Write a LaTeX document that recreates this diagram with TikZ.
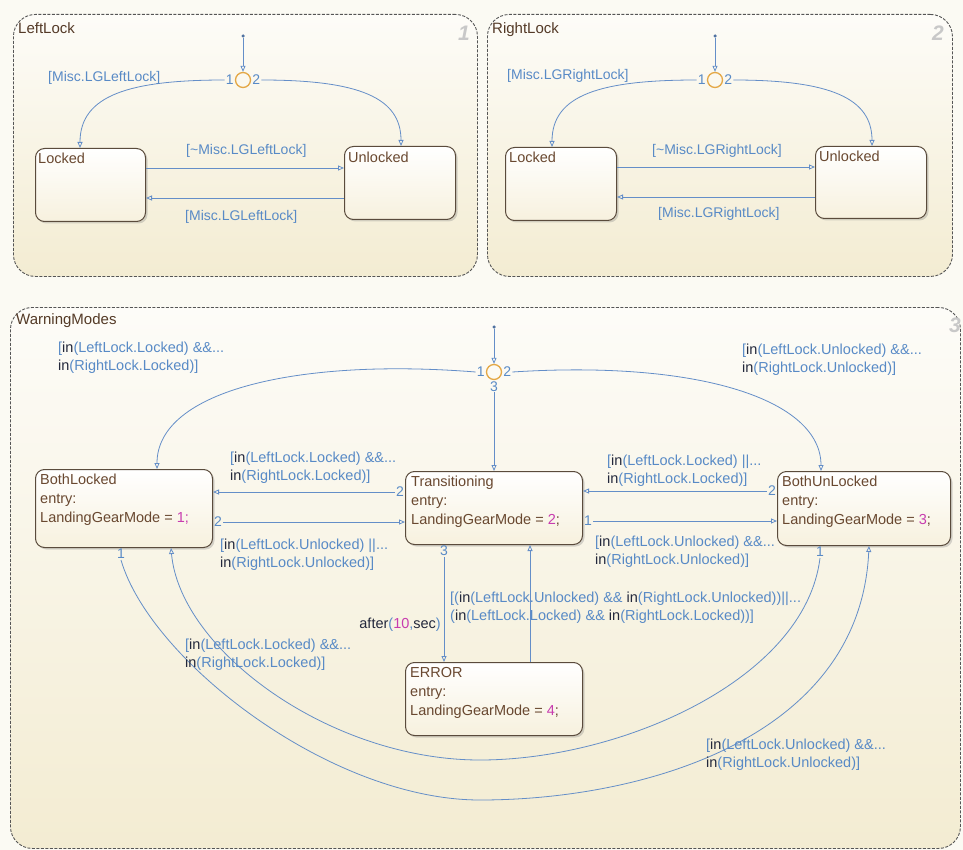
\documentclass[tikz,border=0pt]{standalone}
\usepackage{fontspec}
\setmainfont{Liberation Sans}
\usetikzlibrary{arrows.meta,shadows}
\definecolor{lblue}{RGB}{100,142,200}
\definecolor{tblue}{RGB}{88,138,198}
\definecolor{kdark}{RGB}{35,40,60}
\definecolor{kmag}{RGB}{200,60,175}
\definecolor{sbrown}{RGB}{105,72,48}
\definecolor{sborder}{RGB}{90,75,60}
\definecolor{jorange}{RGB}{228,168,70}
\definecolor{cborder}{RGB}{85,85,85}
\definecolor{bgc}{RGB}{251,250,243}
\definecolor{ctop}{RGB}{253,252,248}
\definecolor{cbot}{RGB}{243,236,210}
\definecolor{sbot}{RGB}{247,241,222}
\definecolor{cnum}{RGB}{200,200,200}
\newcommand{\kin}{{\color{kdark}in}}
\newcommand{\kmg}[1]{{\color{kmag}#1}}
\begin{document}
\begin{tikzpicture}[x=1pt,y=-1pt,
  chartbox/.style={draw=cborder, dash pattern=on 3pt off 1.5pt, line width=0.9pt,
    rounded corners=22pt, top color=ctop, bottom color=cbot, inner sep=0pt, anchor=north west},
  statebox/.style={draw=sborder, line width=1pt, rounded corners=9pt, top color=white,
    bottom color=sbot, inner sep=0pt, anchor=north west,
    drop shadow={shadow xshift=2pt, shadow yshift=-2pt, opacity=0.3}},
  stxt/.style={font=\fontsize{14.5}{19}\selectfont, text=sbrown, align=left, inner sep=0pt, anchor=north west},
  ctitle/.style={font=\fontsize{15}{16}\selectfont, text=sbrown!80!black, inner sep=0pt, anchor=north west},
  cnumber/.style={font=\fontsize{21}{21}\selectfont\bfseries\itshape, text=cnum, inner sep=0pt, anchor=north east},
  lbl/.style={font=\fontsize{14.5}{18}\selectfont, text=tblue, align=left, inner sep=0pt, anchor=north west},
  mlbl/.style={lbl, font=\fontsize{14}{18}\selectfont},
  num/.style={font=\fontsize{14}{16}\selectfont, text=tblue, inner sep=1pt},
  trans/.style={draw=lblue, line width=0.8pt, -{Triangle[open,length=6pt,width=5pt]}},
  junc/.style={circle, draw=jorange, line width=1.3pt, minimum size=15pt, inner sep=0pt},
  ddot/.style={circle, fill=lblue!80!black, minimum size=3.5pt, inner sep=0pt}
]
\fill[bgc] (0,0) rectangle (963,850);
\useasboundingbox (0,0) rectangle (963,850);

% ---------------- charts
\node[chartbox, minimum width=464pt, minimum height=262pt] (leftlock) at (13,14) {};
\node[chartbox, minimum width=465pt, minimum height=262pt] (rightlock) at (487,14) {};
\node[chartbox, minimum width=950pt, minimum height=541pt] (warn) at (10,307) {};
\node[ctitle] (tll) at (18,22) {LeftLock};
\node[ctitle] (trl) at (492,22) {RightLock};
\node[ctitle] (twm) at (16,313) {WarningModes};
\node[cnumber] (n1) at (470,26) {1};
\node[cnumber] (n2) at (944,26) {2};
\node[cnumber] (n3) at (961,318) {3};

% ---------------- LeftLock
\node[statebox, minimum width=110pt, minimum height=73pt] (llk) at (35,148) {};
\node[statebox, minimum width=111pt, minimum height=73pt] (luk) at (344,146) {};
\node[stxt] (llkt) at (38,153) {Locked};
\node[stxt] (lukt) at (348,152) {Unlocked};
\node[ddot] (dL) at (243,36) {};
\node[junc] (jL) at (243,80) {};
\node[num, anchor=east] (jL1) at (jL.west) {1};
\node[num, anchor=west] (jL2) at (jL.east) {2};
\draw[trans] (dL) -- (jL.north);
\draw[trans] (jL1.west) .. controls (130,80) and (80,95) .. ([xshift=45pt]llk.north west);
\draw[trans] (jL2.east) .. controls (360,80) and (401,98) .. ([xshift=57pt]luk.north west);
\draw[trans] ([yshift=-20pt]llk.north east) -- ([yshift=-22pt]luk.north west);
\draw[trans] ([yshift=-52pt]luk.north west) -- ([yshift=-50pt]llk.north east);
\node[mlbl] (l1) at (48,71) {[Misc.LGLeftLock]};
\node[mlbl] (l2) at (186,144) {[\textasciitilde Misc.LGLeftLock]};
\node[mlbl] (l3) at (185,210) {[Misc.LGLeftLock]};

% ---------------- RightLock
\node[statebox, minimum width=111pt, minimum height=73pt] (rlk) at (505,147) {};
\node[statebox, minimum width=111pt, minimum height=72pt] (ruk) at (815,146) {};
\node[stxt] (rlkt) at (509,152) {Locked};
\node[stxt] (rukt) at (819,151) {Unlocked};
\node[ddot] (dR) at (715,36) {};
\node[junc] (jR) at (715,80) {};
\node[num, anchor=east] (jR1) at (jR.west) {1};
\node[num, anchor=west] (jR2) at (jR.east) {2};
\draw[trans] (dR) -- (jR.north);
\draw[trans] (jR1.west) .. controls (600,80) and (552,95) .. ([xshift=47pt]rlk.north west);
\draw[trans] (jR2.east) .. controls (830,80) and (872,98) .. ([xshift=57pt]ruk.north west);
\draw[trans] ([yshift=-20pt]rlk.north east) -- ([yshift=-21pt]ruk.north west);
\draw[trans] ([yshift=-51pt]ruk.north west) -- ([yshift=-50pt]rlk.north east);
\node[mlbl] (r1) at (507,69) {[Misc.LGRightLock]};
\node[mlbl] (r2) at (652,144) {[\textasciitilde Misc.LGRightLock]};
\node[mlbl] (r3) at (658,207) {[Misc.LGRightLock]};

% ---------------- WarningModes states
\node[statebox, minimum width=177pt, minimum height=78pt] (bl) at (35,469) {};
\node[statebox, minimum width=177pt, minimum height=73pt] (tr) at (405,471) {};
\node[statebox, minimum width=173pt, minimum height=74pt] (bu) at (777,471) {};
\node[statebox, minimum width=177pt, minimum height=73pt] (er) at (405,662) {};
\node[stxt] (blt) at (40,474) {BothLocked\\entry:\\LandingGearMode = \kmg{1;}};
\node[stxt] (trt) at (411,476) {Transitioning\\entry:\\LandingGearMode = \kmg{2};};
\node[stxt] (but) at (782,476) {BothUnLocked\\entry:\\LandingGearMode = \kmg{3};};
\node[stxt] (ert) at (410,667) {ERROR\\entry:\\LandingGearMode = \kmg{4};};

\node[ddot] (dW) at (494,327) {};
\node[junc] (jW) at (494,372) {};
\node[num, anchor=east] (jW1) at (jW.west) {1};
\node[num, anchor=west] (jW2) at (jW.east) {2};
\node[num, anchor=north] (jW3) at (jW.south) {3};
\draw[trans] (dW) -- (jW.north);
\draw[trans] (jW1.west) .. controls (300,358) and (157,390) .. ([xshift=122pt]bl.north west);
\draw[trans] (jW2.east) .. controls (700,360) and (821,400) .. ([xshift=44pt]bu.north west);
\draw[trans] (jW3.south) -- (jW3.south |- tr.north);

% horizontal transitions
\node[num, anchor=east] (t2) at ([yshift=-21pt]tr.north west) {2};
\draw[trans] (t2.west) -- (t2.west -| bl.east);
\node[num, anchor=west] (b2) at ([yshift=-53pt]bl.north east) {2};
\draw[trans] (b2.east) -- (b2.east -| tr.west);
\node[num, anchor=east] (u2) at ([yshift=-20pt]bu.north west) {2};
\draw[trans] (u2.west) -- (u2.west -| tr.east);
\node[num, anchor=west] (t1) at ([yshift=-50pt]tr.north east) {1};
\draw[trans] (t1.east) -- (t1.east -| bu.west);

% vertical transitions
\node[num, anchor=north] (t3) at ([xshift=39pt]tr.south west) {3};
\draw[trans] (t3.south) -- (t3.south |- er.north);
\draw[trans] ([xshift=125pt]er.north west) -- ([xshift=125pt]tr.south west);

% big curves
\node[num, anchor=north] (b1) at ([xshift=86pt]bl.south west) {1};
\draw[trans] (b1.south) .. controls (150,660) and (330,800) .. (480,800)
  .. controls (640,800) and (860,740) .. ([xshift=92pt]bu.south west);
\node[num, anchor=north] (u1) at ([xshift=43pt]bu.south west) {1};
\draw[trans] (u1.south) .. controls (805,680) and (620,760) .. (480,760)
  .. controls (330,760) and (180,650) .. ([xshift=136pt]bl.south west);

% labels
\node[lbl] (w1) at (58,342) {[\kin(LeftLock.Locked) \&\&...\\\kin(RightLock.Locked)]};
\node[lbl] (w2) at (742,344) {[\kin(LeftLock.Unlocked) \&\&...\\\kin(RightLock.Unlocked)]};
\node[lbl] (w3) at (230,452) {[\kin(LeftLock.Locked) \&\&...\\\kin(RightLock.Locked)]};
\node[lbl] (w4) at (220,539) {[\kin(LeftLock.Unlocked) ||...\\\kin(RightLock.Unlocked)]};
\node[lbl] (w5) at (607,455) {[\kin(LeftLock.Locked) ||...\\\kin(RightLock.Locked)]};
\node[lbl] (w6) at (595,536) {[\kin(LeftLock.Unlocked) \&\&...\\\kin(RightLock.Unlocked)]};
\node[lbl] (w7) at (450,592) {[(\kin(LeftLock.Unlocked) \&\& \kin(RightLock.Unlocked))||...\\(\kin(LeftLock.Locked) \&\& \kin(RightLock.Locked))]};
\node[lbl, anchor=north east] (w8) at (441,618) {{\color{kdark}after}(\kmg{10},{\color{kdark}sec})};
\node[lbl] (w9) at (185,639) {[\kin(LeftLock.Locked) \&\&...\\\kin(RightLock.Locked)]};
\node[lbl] (w10) at (706,739) {[\kin(LeftLock.Unlocked) \&\&...\\\kin(RightLock.Unlocked)]};
\end{tikzpicture}
\end{document}
